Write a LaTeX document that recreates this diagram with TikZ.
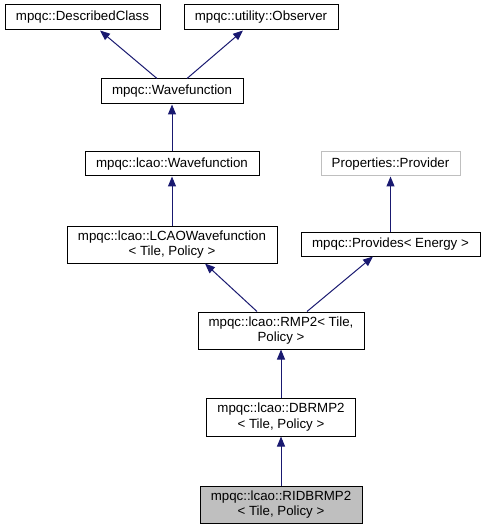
\documentclass[tikz,border=0pt]{standalone}
\usepackage{fontspec}
\setmainfont{Liberation Sans}
\usetikzlibrary{arrows.meta}
\definecolor{edgeblue}{HTML}{191970}
\definecolor{grayfill}{HTML}{BFBFBF}
\definecolor{grayline}{HTML}{BFBFBF}
\tikzset{
  cls/.style={draw=black, line width=1pt, fill=white, inner sep=0pt, align=center,
    font=\fontsize{13.3pt}{15.5pt}\selectfont},
  ext/.style={cls, draw=grayline},
  cur/.style={cls, fill=grayfill},
  edge/.style={draw=edgeblue, line width=1pt, -{Triangle[length=10pt,width=8pt]}}
}
\begin{document}
\begin{tikzpicture}[x=1pt,y=-1pt]
\useasboundingbox (0,0) rectangle (485,529);
\node[cls, minimum width=155pt, minimum height=25pt] (dc) at (82.5,17.5) {mpqc::DescribedClass};
\node[cls, minimum width=154pt, minimum height=25pt] (obs) at (261,17.5) {mpqc::utility::Observer};
\node[cls, minimum width=142pt, minimum height=25pt] (wf) at (172,91.5) {mpqc::Wavefunction};
\node[cls, minimum width=174pt, minimum height=24pt] (lwf) at (172,164) {mpqc::lcao::Wavefunction};
\node[ext, minimum width=139pt, minimum height=24pt] (pp) at (390.5,164) {Properties::Provider};
\node[cls, minimum width=210pt, minimum height=37pt] (lcao) at (172,244.5) {mpqc::lcao::LCAOWavefunction\\< Tile, Policy >};
\node[cls, minimum width=179pt, minimum height=24pt] (prov) at (390.5,244) {mpqc::Provides< Energy >};
\node[cls, minimum width=166pt, minimum height=37pt] (rmp2) at (281,330.5) {mpqc::lcao::RMP2< Tile,\\Policy >};
\node[cls, minimum width=149pt, minimum height=38pt] (db) at (281,417) {mpqc::lcao::DBRMP2\\< Tile, Policy >};
\node[cur, minimum width=162pt, minimum height=37pt] (ri) at (281,504.5) {mpqc::lcao::RIDBRMP2\\< Tile, Policy >};

\draw[edge] ([xshift=-15pt]wf.north) -- ([xshift=17.5pt]dc.south);
\draw[edge] ([xshift=15pt]wf.north) -- ([xshift=-18pt]obs.south);
\draw[edge] (lwf.north) -- (wf.south);
\draw[edge] (lcao.north) -- (lwf.south);
\draw[edge] (prov.north) -- (pp.south);
\draw[edge] ([xshift=-24pt]rmp2.north) -- ([xshift=33pt]lcao.south);
\draw[edge] ([xshift=26pt]rmp2.north) -- ([xshift=-17.5pt]prov.south);
\draw[edge] (db.north) -- (rmp2.south);
\draw[edge] (ri.north) -- (db.south);
\end{tikzpicture}
\end{document}
